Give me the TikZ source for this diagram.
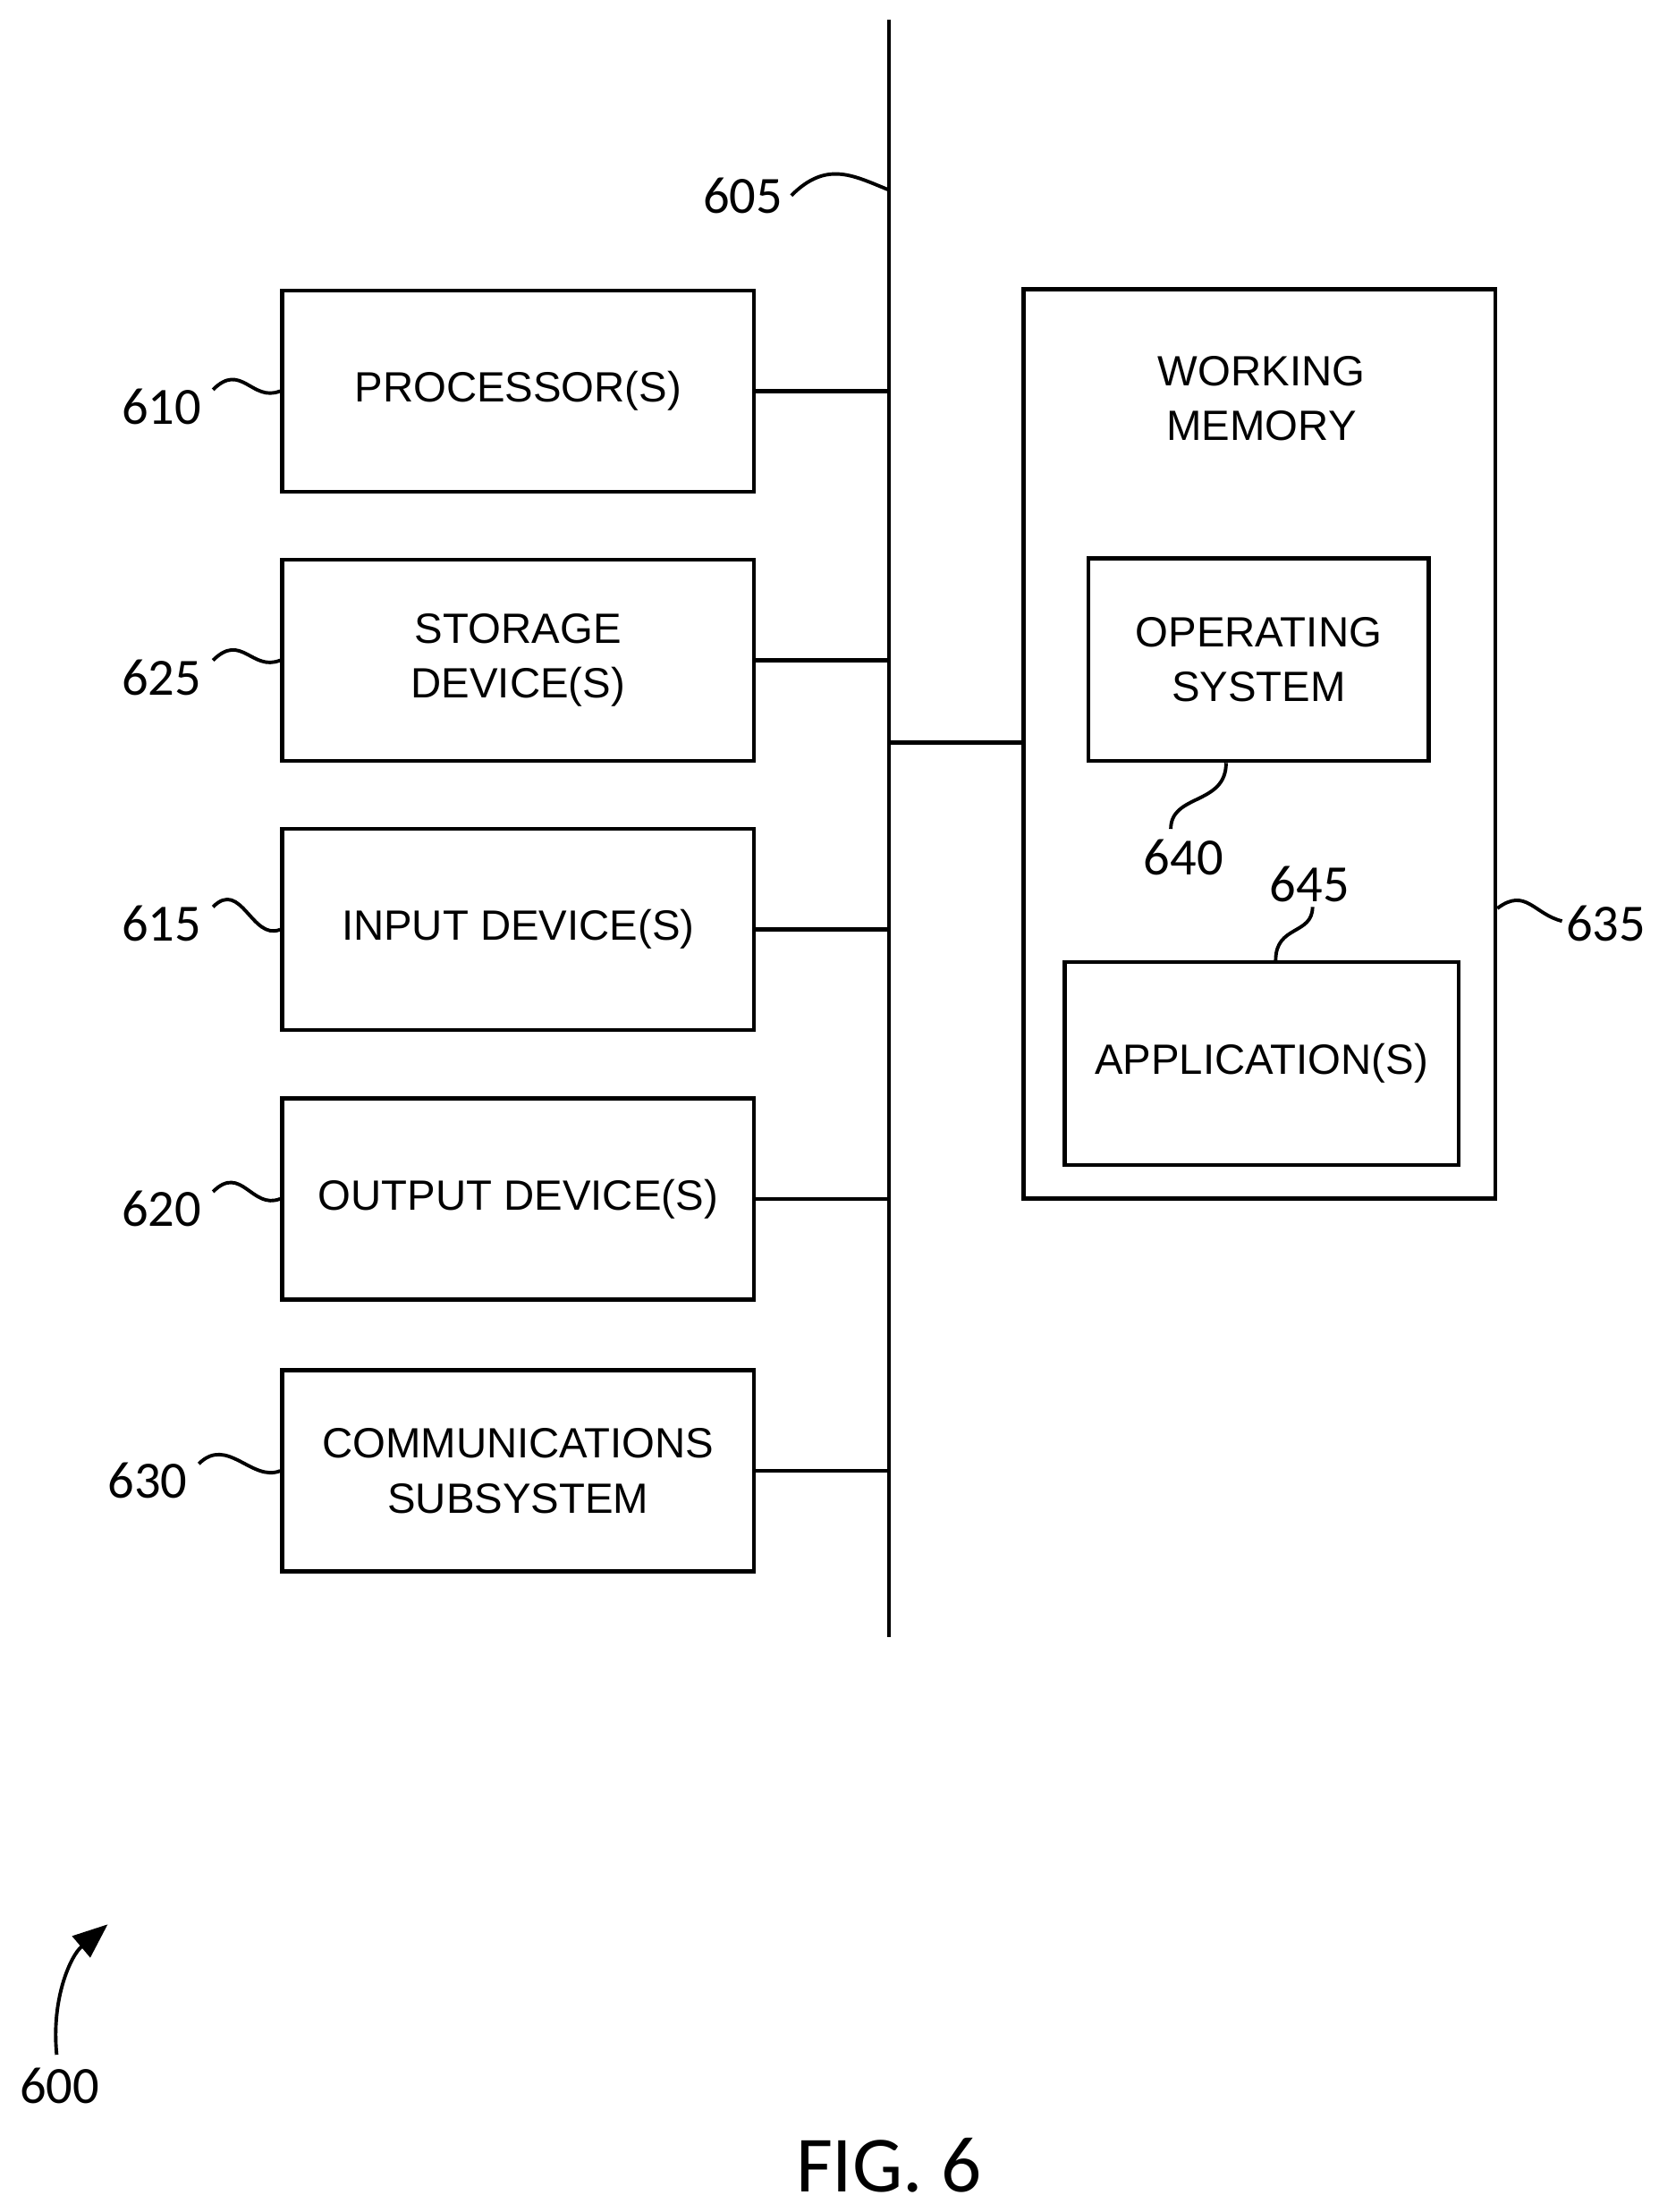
\documentclass[tikz,border=0pt]{standalone}
\usepackage{fontspec}
\setmainfont{Liberation Sans}
\newfontfamily\numfont{Carlito}
\usetikzlibrary{arrows.meta,positioning}
\tikzset{
  blk/.style={draw, line width=1.6pt, minimum width=6.66cm, minimum height=2.84cm, align=center, font=\fontsize{17}{22}\selectfont},
  refno/.style={font=\numfont\fontsize{21}{24}\selectfont},
  squig/.style={line width=1.4pt},
  bus/.style={line width=1.6pt}
}
\begin{document}
\begin{tikzpicture}[x=0.02cm,y=-0.02cm]
\useasboundingbox (0,0) rectangle (1170,1561);
% bus
\coordinate (bt) at (627,14);
\coordinate (bb) at (627,1155);
\draw[bus] (bt) -- (bb);
\node[refno] (l605) at (524,138) {605};
\draw[squig] (l605.east) .. controls +(25,-25) and +(-25,-10) .. (627,134);
% left blocks
\node[blk] (proc) at (365.5,276) {PROCESSOR(S)};
\node[blk] (stor) at (365.5,466) {STORAGE\\DEVICE(S)};
\node[blk] (inp) at (365.5,656) {INPUT DEVICE(S)};
\node[blk] (outp) at (365.5,846) {OUTPUT DEVICE(S)};
\node[blk] (comm) at (365.5,1038) {COMMUNICATIONS\\SUBSYSTEM};
\foreach \b in {proc,stor,inp,outp,comm}
  \draw[bus] (\b.east) -- (\b.east -| bt);
% reference numerals
\node[refno] (l610) at (114,287) {610};
\node[refno] (l625) at (114,478) {625};
\node[refno] (l615) at (114,652) {615};
\node[refno] (l620) at (114,853) {620};
\node[refno] (l630) at (104,1045) {630};
\foreach \l/\b in {l610/proc,l625/stor,l615/inp,l620/outp,l630/comm}
  \draw[squig] (\l.east) ++(2,-12) .. controls +(20,-20) and +(-20,8) .. (\b.west);
% working memory
\node[blk, minimum width=6.66cm, minimum height=12.84cm] (wm) at (888.5,525) {};
\node[font=\fontsize{17}{22}\selectfont, align=center] (wmt) at (890,281) {WORKING\\MEMORY};
\draw[bus] (627,524) -- (wm.west |- 627,524);
\node[blk, minimum width=4.8cm, minimum height=2.86cm] (os) at (888,465.5) {OPERATING\\SYSTEM};
\node[blk, minimum width=5.56cm, minimum height=2.86cm] (app) at (890,750.5) {APPLICATION(S)};
\node[refno] (l640) at (835,605) {640};
\draw[squig] (os.south -| 865,0) .. controls +(0,30) and +(0,-25) .. (826,585);
\node[refno] (l645) at (924,624) {645};
\draw[squig] (app.north -| 900,0) .. controls +(0,-25) and +(0,20) .. (926,640);
\node[refno] (l635) at (1133,652) {635};
\draw[squig] (wm.east |- 0,641) .. controls +(20,-15) and +(-20,-5) .. (1102,650);
% figure number
\node[refno] (l600) at (42,1472) {600};
\draw[squig, -{Triangle[length=14pt,width=11pt]}] (40,1450) .. controls (36,1410) and (50,1380) .. (76,1358);
\node[font=\numfont\fontsize{32}{38}\selectfont] (fig) at (627,1528) {FIG. 6};
\end{tikzpicture}
\end{document}
